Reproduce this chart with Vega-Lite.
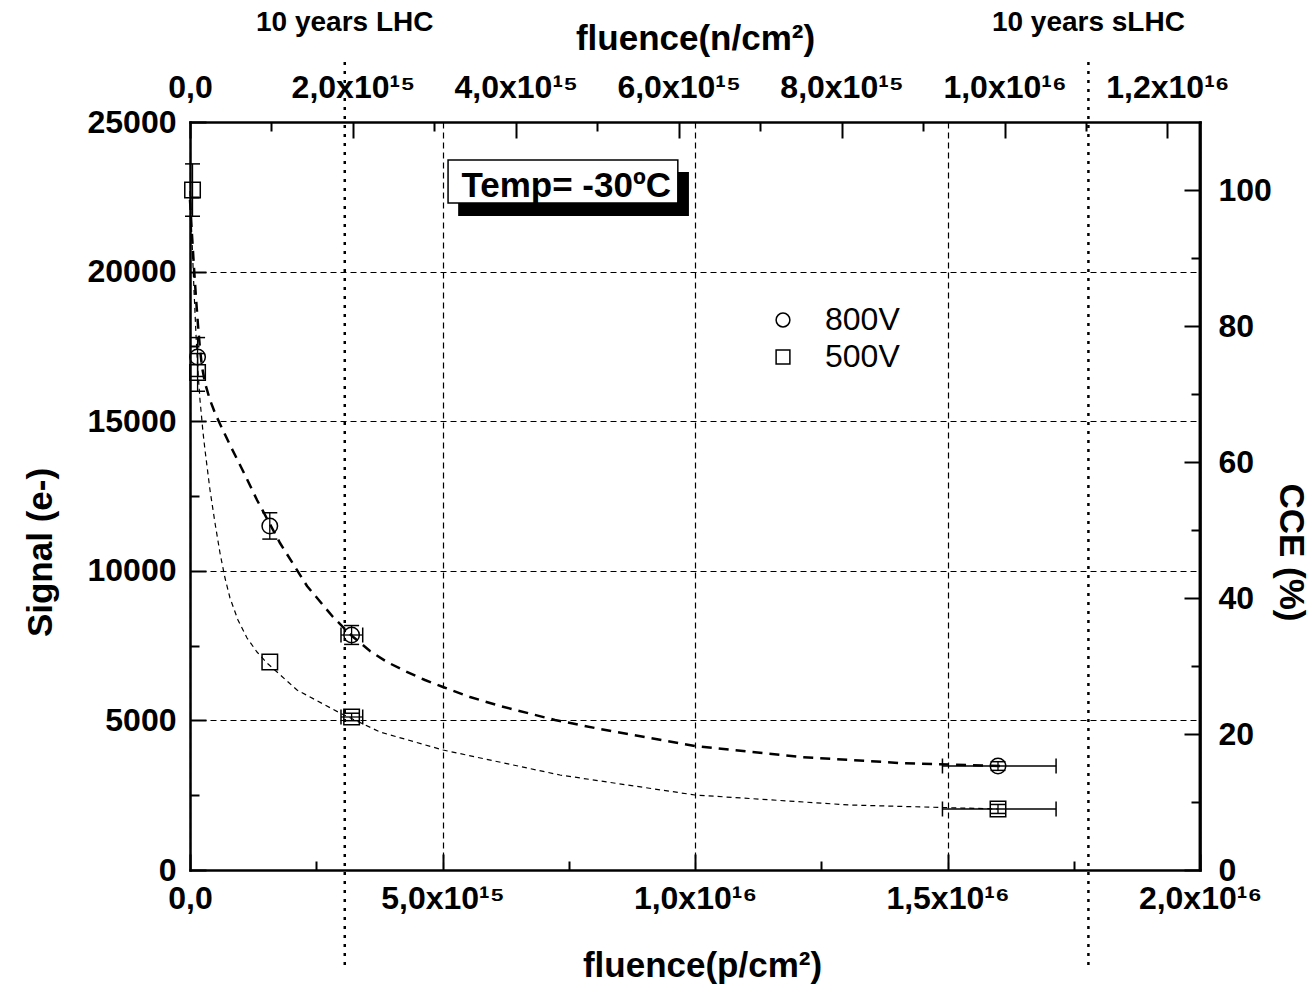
{
  "$schema": "https://vega.github.io/schema/vega-lite/v6.json",
  "width": 1010,
  "height": 748,
  "autosize": {"type": "none"},
  "padding": {"left": 190, "top": 122, "right": 115, "bottom": 123},
  "background": "white",
  "config": {
    "font": "Liberation Sans",
    "view": {"stroke": null},
    "axis": {
      "domainColor": "black", "domainWidth": 2.5, "domainCap": "square",
      "tickColor": "black", "tickWidth": 2,
      "labelColor": "black", "labelFont": "Liberation Sans", "labelFontSize": 32, "labelFontWeight": "bold",
      "titleColor": "black", "titleFont": "Liberation Sans", "titleFontSize": 35, "titleFontWeight": "bold",
      "gridColor": "black", "gridDash": [6, 4], "gridWidth": 1.2, "gridOpacity": 1,
      "labelFlush": false, "labelOverlap": false, "labelBound": false
    }
  },
  "datasets": {
    "fit": [
      {"series": "800V", "fluence": 0, "signal": 22393},
      {"series": "800V", "fluence": 3.96e13, "signal": 21223},
      {"series": "800V", "fluence": 7.92e13, "signal": 20120},
      {"series": "800V", "fluence": 1.19e14, "signal": 19118},
      {"series": "800V", "fluence": 1.58e14, "signal": 18215},
      {"series": "800V", "fluence": 1.98e14, "signal": 17413},
      {"series": "800V", "fluence": 2.38e14, "signal": 16812},
      {"series": "800V", "fluence": 2.97e14, "signal": 16277},
      {"series": "800V", "fluence": 3.96e14, "signal": 15709},
      {"series": "800V", "fluence": 4.95e14, "signal": 15274},
      {"series": "800V", "fluence": 5.94e14, "signal": 14906},
      {"series": "800V", "fluence": 7.92e14, "signal": 14205},
      {"series": "800V", "fluence": 1.089e15, "signal": 13202},
      {"series": "800V", "fluence": 1.327e15, "signal": 12366},
      {"series": "800V", "fluence": 1.782e15, "signal": 10929},
      {"series": "800V", "fluence": 2.317e15, "signal": 9492},
      {"series": "800V", "fluence": 2.832e15, "signal": 8456},
      {"series": "800V", "fluence": 3.208e15, "signal": 7821},
      {"series": "800V", "fluence": 3.564e15, "signal": 7320},
      {"series": "800V", "fluence": 3.901e15, "signal": 6952},
      {"series": "800V", "fluence": 4.257e15, "signal": 6651},
      {"series": "800V", "fluence": 4.653e15, "signal": 6350},
      {"series": "800V", "fluence": 5.01e15, "signal": 6116},
      {"series": "800V", "fluence": 5.545e15, "signal": 5782},
      {"series": "800V", "fluence": 6.139e15, "signal": 5481},
      {"series": "800V", "fluence": 7.228e15, "signal": 5013},
      {"series": "800V", "fluence": 8.119e15, "signal": 4713},
      {"series": "800V", "fluence": 1.0e16, "signal": 4144},
      {"series": "800V", "fluence": 1.208e16, "signal": 3777},
      {"series": "800V", "fluence": 1.406e16, "signal": 3576},
      {"series": "800V", "fluence": 1.604e16, "signal": 3476},
      {"series": "500V", "fluence": 0, "signal": 22694},
      {"series": "500V", "fluence": 3.96e13, "signal": 21056},
      {"series": "500V", "fluence": 7.92e13, "signal": 19385},
      {"series": "500V", "fluence": 1.19e14, "signal": 17881},
      {"series": "500V", "fluence": 1.58e14, "signal": 16644},
      {"series": "500V", "fluence": 1.98e14, "signal": 15709},
      {"series": "500V", "fluence": 2.57e14, "signal": 14639},
      {"series": "500V", "fluence": 2.97e14, "signal": 14037},
      {"series": "500V", "fluence": 3.96e14, "signal": 12701},
      {"series": "500V", "fluence": 4.95e14, "signal": 11598},
      {"series": "500V", "fluence": 5.94e14, "signal": 10595},
      {"series": "500V", "fluence": 6.93e14, "signal": 9759},
      {"series": "500V", "fluence": 7.92e14, "signal": 9091},
      {"series": "500V", "fluence": 9.5e14, "signal": 8356},
      {"series": "500V", "fluence": 1.129e15, "signal": 7754},
      {"series": "500V", "fluence": 1.327e15, "signal": 7286},
      {"series": "500V", "fluence": 1.525e15, "signal": 6918},
      {"series": "500V", "fluence": 2.119e15, "signal": 6016},
      {"series": "500V", "fluence": 2.97e15, "signal": 5247},
      {"series": "500V", "fluence": 3.762e15, "signal": 4612},
      {"series": "500V", "fluence": 5.01e15, "signal": 4011},
      {"series": "500V", "fluence": 7.327e15, "signal": 3175},
      {"series": "500V", "fluence": 1.0e16, "signal": 2507},
      {"series": "500V", "fluence": 1.307e16, "signal": 2172},
      {"series": "500V", "fluence": 1.6e16, "signal": 2039}
    ],
    "points": [
      {"series": "800V", "fluence": 1.5e14, "signal": 17145, "ylo": 16495, "yhi": 17795},
      {"series": "800V", "fluence": 1.58e15, "signal": 11497, "ylo": 11060, "yhi": 11940},
      {"series": "800V", "fluence": 3.2e15, "signal": 7854, "ylo": 7540, "yhi": 8170, "xlo": 2.99e15, "xhi": 3.42e15},
      {"series": "800V", "fluence": 1.6e16, "signal": 3476, "ylo": 3330, "yhi": 3620, "xlo": 1.49e16, "xhi": 1.715e16},
      {"series": "500V", "fluence": 5e13, "signal": 22727, "ylo": 21850, "yhi": 23600},
      {"series": "500V", "fluence": 1.5e14, "signal": 16630, "ylo": 16000, "yhi": 17260},
      {"series": "500V", "fluence": 1.58e15, "signal": 6952},
      {"series": "500V", "fluence": 3.2e15, "signal": 5114, "ylo": 4990, "yhi": 5240, "xlo": 2.99e15, "xhi": 3.42e15},
      {"series": "500V", "fluence": 1.6e16, "signal": 2039, "ylo": 1890, "yhi": 2190, "xlo": 1.49e16, "xhi": 1.715e16}
    ],
    "marks": [
      {"label": "10 years LHC", "nfluence": 1.9e15},
      {"label": "10 years sLHC", "nfluence": 1.103e16}
    ]
  },
  "resolve": {
    "scale": {"x": "independent", "y": "independent"},
    "axis": {"x": "independent", "y": "independent"}
  },
  "layer": [
    {
      "data": {"name": "fit"},
      "transform": [{"filter": "datum.series === '800V'"}],
      "mark": {"type": "line", "color": "black", "strokeWidth": 2.5, "strokeDash": [10, 7]},
      "encoding": {
        "x": {"field": "fluence", "type": "quantitative",
          "scale": {"domain": [0, 2e16], "nice": false, "zero": false},
          "axis": {"orient": "bottom", "values": [0, 5e15, 1e16, 1.5e16, 2e16],
            "labelExpr": "datum.value === 0 ? '0,0' : (datum.value < 9.99e15 ? replace(format(datum.value/1e15,'.1f'),'.',',') + 'x10¹⁵' : replace(format(datum.value/1e16,'.1f'),'.',',') + 'x10¹⁶')",
            "tickSize": -16, "labelPadding": 29, "grid": true,
            "title": "fluence(p/cm²)", "titleX": 512, "titleY": 95, "titleBaseline": "middle", "titleAlign": "center"}},
        "y": {"field": "signal", "type": "quantitative",
          "scale": {"domain": [0, 25000], "nice": false, "zero": false},
          "axis": {"orient": "left", "values": [0, 5000, 10000, 15000, 20000, 25000], "format": "d",
            "tickSize": -16, "labelPadding": 30, "grid": true,
            "title": "Signal (e-)", "titleAngle": -90, "titleX": -150, "titleY": 430, "titleBaseline": "middle", "titleAlign": "center"}}
      }
    },
    {
      "data": {"name": "fit"},
      "transform": [{"filter": "datum.series === '500V'"}],
      "mark": {"type": "line", "color": "black", "strokeWidth": 1.2, "strokeDash": [5, 4]},
      "encoding": {
        "x": {"field": "fluence", "type": "quantitative",
          "scale": {"domain": [0, 2e16], "nice": false, "zero": false},
          "axis": {"orient": "bottom", "values": [2.5e15, 7.5e15, 1.25e16, 1.75e16], "labels": false, "domain": false, "grid": false, "tickSize": -9, "title": null}},
        "y": {"field": "signal", "type": "quantitative",
          "scale": {"domain": [0, 25000], "nice": false, "zero": false},
          "axis": {"orient": "left", "values": [2500, 7500, 12500, 17500, 22500], "labels": false, "domain": false, "grid": false, "tickSize": -9, "title": null}}
      }
    },
    {
      "data": {"name": "points"},
      "transform": [{"filter": "isValid(datum.ylo)"}],
      "mark": {"type": "rule", "color": "black", "strokeWidth": 1.3},
      "encoding": {
        "x": {"field": "fluence", "type": "quantitative", "scale": {"domain": [0, 2e16], "nice": false, "zero": false}, "axis": null},
        "y": {"field": "ylo", "type": "quantitative", "scale": {"domain": [0, 25000], "nice": false, "zero": false}, "axis": null},
        "y2": {"field": "yhi"}
      }
    },
    {
      "data": {"name": "points"},
      "transform": [{"filter": "isValid(datum.ylo)"}],
      "mark": {"type": "tick", "orient": "horizontal", "color": "black", "size": 15, "thickness": 1.5, "opacity": 1},
      "encoding": {
        "x": {"field": "fluence", "type": "quantitative", "scale": {"domain": [0, 2e16], "nice": false, "zero": false}, "axis": null},
        "y": {"field": "ylo", "type": "quantitative", "scale": {"domain": [0, 25000], "nice": false, "zero": false}, "axis": null}
      }
    },
    {
      "data": {"name": "points"},
      "transform": [{"filter": "isValid(datum.yhi)"}],
      "mark": {"type": "tick", "orient": "horizontal", "color": "black", "size": 15, "thickness": 1.5, "opacity": 1},
      "encoding": {
        "x": {"field": "fluence", "type": "quantitative", "scale": {"domain": [0, 2e16], "nice": false, "zero": false}, "axis": null},
        "y": {"field": "yhi", "type": "quantitative", "scale": {"domain": [0, 25000], "nice": false, "zero": false}, "axis": null}
      }
    },
    {
      "data": {"name": "points"},
      "transform": [{"filter": "isValid(datum.xlo)"}],
      "mark": {"type": "rule", "color": "black", "strokeWidth": 1.3},
      "encoding": {
        "x": {"field": "xlo", "type": "quantitative", "scale": {"domain": [0, 2e16], "nice": false, "zero": false}, "axis": null},
        "x2": {"field": "xhi"},
        "y": {"field": "signal", "type": "quantitative", "scale": {"domain": [0, 25000], "nice": false, "zero": false}, "axis": null}
      }
    },
    {
      "data": {"name": "points"},
      "transform": [{"filter": "isValid(datum.xlo)"}],
      "mark": {"type": "tick", "orient": "vertical", "color": "black", "size": 15, "thickness": 1.5, "opacity": 1},
      "encoding": {
        "x": {"field": "xlo", "type": "quantitative", "scale": {"domain": [0, 2e16], "nice": false, "zero": false}, "axis": null},
        "y": {"field": "signal", "type": "quantitative", "scale": {"domain": [0, 25000], "nice": false, "zero": false}, "axis": null}
      }
    },
    {
      "data": {"name": "points"},
      "transform": [{"filter": "isValid(datum.xhi)"}],
      "mark": {"type": "tick", "orient": "vertical", "color": "black", "size": 15, "thickness": 1.5, "opacity": 1},
      "encoding": {
        "x": {"field": "xhi", "type": "quantitative", "scale": {"domain": [0, 2e16], "nice": false, "zero": false}, "axis": null},
        "y": {"field": "signal", "type": "quantitative", "scale": {"domain": [0, 25000], "nice": false, "zero": false}, "axis": null}
      }
    },
    {
      "data": {"name": "points"},
      "mark": {"type": "point", "filled": false, "color": "black", "strokeWidth": 1.5, "opacity": 1, "size": 240},
      "encoding": {
        "x": {"field": "fluence", "type": "quantitative", "scale": {"domain": [0, 2e16], "nice": false, "zero": false}, "axis": null},
        "y": {"field": "signal", "type": "quantitative", "scale": {"domain": [0, 25000], "nice": false, "zero": false}, "axis": null},
        "shape": {"field": "series", "type": "nominal",
          "scale": {"domain": ["800V", "500V"], "range": ["circle", "square"]},
          "legend": {"orient": "none", "legendX": 577, "legendY": 182, "title": null,
            "labelFontSize": 32, "labelFontWeight": "normal", "labelFont": "Liberation Sans", "labelColor": "black",
            "symbolSize": 190, "symbolStrokeWidth": 1.5, "symbolStrokeColor": "black", "symbolFillColor": "transparent",
            "labelOffset": 26, "rowPadding": 5, "padding": 0}}
      }
    },
    {
      "data": {"values": [{}]},
      "mark": {"type": "rect", "color": "black"},
      "encoding": {
        "x": {"datum": 5.31e15, "type": "quantitative", "scale": {"domain": [0, 2e16], "nice": false, "zero": false}, "axis": null},
        "x2": {"datum": 9.88e15},
        "y": {"datum": 21858, "type": "quantitative", "scale": {"domain": [0, 25000], "nice": false, "zero": false}, "axis": null},
        "y2": {"datum": 23330}
      }
    },
    {
      "data": {"values": [{}]},
      "mark": {"type": "rect", "fill": "white", "stroke": "black", "strokeWidth": 1.5},
      "encoding": {
        "x": {"datum": 5.11e15, "type": "quantitative", "scale": {"domain": [0, 2e16], "nice": false, "zero": false}, "axis": null},
        "x2": {"datum": 9.66e15},
        "y": {"datum": 22293, "type": "quantitative", "scale": {"domain": [0, 25000], "nice": false, "zero": false}, "axis": null},
        "y2": {"datum": 23730}
      }
    },
    {
      "data": {"values": [{}]},
      "mark": {"type": "text", "text": "Temp= -30ºC", "font": "Liberation Sans", "fontSize": 35, "fontWeight": "bold", "color": "black", "align": "center", "baseline": "middle"},
      "encoding": {
        "x": {"datum": 7.45e15, "type": "quantitative", "scale": {"domain": [0, 2e16], "nice": false, "zero": false}, "axis": null},
        "y": {"datum": 22861, "type": "quantitative", "scale": {"domain": [0, 25000], "nice": false, "zero": false}, "axis": null}
      }
    },
    {
      "data": {"name": "marks"},
      "mark": {"type": "rule", "color": "black", "strokeWidth": 2.5, "strokeDash": [3, 6]},
      "encoding": {
        "x": {"field": "nfluence", "type": "quantitative",
          "scale": {"domain": [0, 1.24e16], "nice": false, "zero": false},
          "axis": {"orient": "top", "values": [0, 2e15, 4e15, 6e15, 8e15, 1e16, 1.2e16],
            "labelExpr": "datum.value === 0 ? '0,0' : (datum.value < 9.99e15 ? replace(format(datum.value/1e15,'.1f'),'.',',') + 'x10¹⁵' : replace(format(datum.value/1e16,'.1f'),'.',',') + 'x10¹⁶')",
            "tickSize": -16, "labelPadding": 34, "grid": false,
            "title": "fluence(n/cm²)", "titleX": 505, "titleY": -84, "titleBaseline": "middle", "titleAlign": "center"}},
        "y": {"datum": -3175, "type": "quantitative", "scale": {"domain": [0, 25000], "nice": false, "zero": false}, "axis": null},
        "y2": {"datum": 27070}
      }
    },
    {
      "data": {"name": "marks"},
      "mark": {"type": "text", "font": "Liberation Sans", "fontSize": 28, "fontWeight": "bold", "color": "black", "align": "center", "baseline": "middle"},
      "encoding": {
        "x": {"field": "nfluence", "type": "quantitative",
          "scale": {"domain": [0, 1.24e16], "nice": false, "zero": false},
          "axis": {"orient": "top", "values": [1e15, 3e15, 5e15, 7e15, 9e15, 1.1e16], "labels": false, "domain": false, "grid": false, "tickSize": -9, "title": null}},
        "y": {"datum": 28300, "type": "quantitative", "scale": {"domain": [0, 25000], "nice": false, "zero": false}, "axis": null},
        "text": {"field": "label"}
      }
    },
    {
      "data": {"values": [{}]},
      "mark": {"type": "rule", "color": "black", "strokeWidth": 2.5},
      "encoding": {
        "x": {"datum": 2e16, "type": "quantitative", "scale": {"domain": [0, 2e16], "nice": false, "zero": false}, "axis": null},
        "y": {"datum": 0, "type": "quantitative",
          "scale": {"domain": [0, 110], "nice": false, "zero": false},
          "axis": {"orient": "right", "values": [0, 20, 40, 60, 80, 100], "format": "d",
            "tickSize": -16, "labelPadding": 34, "grid": false,
            "title": "CCE (%)", "titleAngle": 90, "titleX": 90, "titleY": 430, "titleBaseline": "middle", "titleAlign": "center"}},
        "y2": {"datum": 110}
      }
    },
    {
      "data": {"values": [{}]},
      "mark": {"type": "rule", "color": "black", "strokeWidth": 2.5},
      "encoding": {
        "x": {"datum": 2e16, "type": "quantitative", "scale": {"domain": [0, 2e16], "nice": false, "zero": false}, "axis": null},
        "y": {"datum": 0, "type": "quantitative",
          "scale": {"domain": [0, 110], "nice": false, "zero": false},
          "axis": {"orient": "right", "values": [10, 30, 50, 70, 90], "labels": false, "domain": false, "grid": false, "tickSize": -9, "title": null}},
        "y2": {"datum": 110}
      }
    }
  ]
}
